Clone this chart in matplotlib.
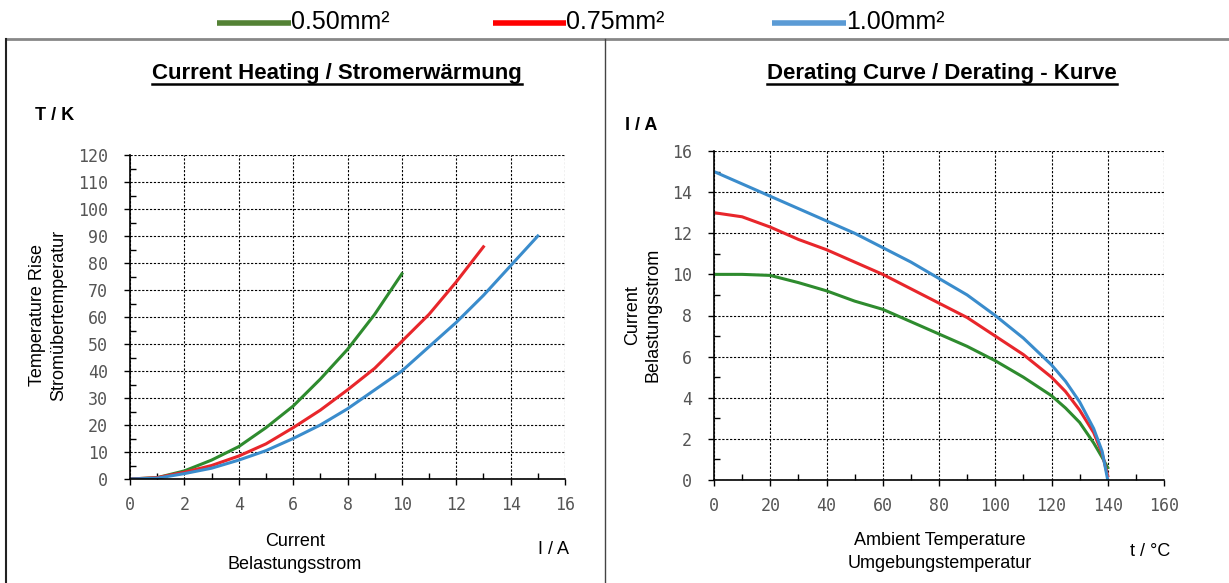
import numpy as np
import matplotlib.pyplot as plt
from matplotlib.lines import Line2D
from matplotlib.ticker import MultipleLocator

# --- data ---
heat_i_050 = [0, 1, 2, 3, 4, 5, 6, 7, 8, 9, 10]
heat_t_050 = [0, 0.5, 3, 7, 12, 19, 27, 37, 48, 61, 76]
heat_i_075 = [0, 1, 2, 3, 4, 5, 6, 7, 8, 9, 10, 11, 12, 13]
heat_t_075 = [0, 0.5, 2.5, 5, 8.5, 13, 19, 25.5, 33, 41, 51, 61, 73, 86]
heat_i_100 = [0, 1, 2, 3, 4, 5, 6, 7, 8, 9, 10, 11, 12, 13, 14, 15]
heat_t_100 = [0, 0.3, 2, 4, 7, 10.5, 15, 20, 26, 33, 40, 49, 58, 68, 79, 90]

der_t = [0, 10, 20, 30, 40, 50, 60, 70, 80, 90, 100, 110, 120, 125, 130, 135, 138, 140]
der_i_050 = [10, 10, 9.95, 9.6, 9.2, 8.7, 8.3, 7.7, 7.1, 6.5, 5.8, 5.0, 4.1, 3.5, 2.8, 1.8, 1.1, 0.6]
der_i_075 = [13, 12.8, 12.3, 11.7, 11.2, 10.6, 10.0, 9.3, 8.6, 7.9, 7.0, 6.1, 5.0, 4.3, 3.4, 2.3, 1.3, 0.2]
der_i_100 = [15, 14.4, 13.8, 13.2, 12.6, 12.0, 11.3, 10.6, 9.8, 9.0, 8.0, 6.9, 5.6, 4.8, 3.8, 2.5, 1.4, 0]

legend_labels = ["0.50mm²", "0.75mm²", "1.00mm²"]
legend_colors = ["#548235", "#ff0000", "#5b9bd5"]
line_colors = ["#2e8b2e", "#e8262b", "#3a8ccc"]

plt.rcParams['font.family'] = ['Liberation Sans', 'DejaVu Sans']

W, H = 1229, 583
fig = plt.figure(figsize=(W / 100, H / 100), dpi=100)


def px(x, y):
    return x / W, 1 - y / H


# frame lines
fig.add_artist(Line2D([6 / W, 1], [1 - 39 / H] * 2, color="#888888", lw=2))
fig.add_artist(Line2D([6 / W] * 2, [0, 1 - 39 / H], color="#222222", lw=1.5))
fig.add_artist(Line2D([605 / W] * 2, [0, 1 - 39 / H], color="#444444", lw=1))

# legend on top
leg_pos = [(217, 291), (493, 566), (772, 846)]
for (x0, x1), lab, col in zip(leg_pos, legend_labels, legend_colors):
    fig.add_artist(Line2D([x0 / W, x1 / W], [1 - 23 / H] * 2, color=col, lw=4,
                          solid_capstyle="butt"))
    fig.text(x1 / W, 1 - 22 / H, lab, fontsize=18, va="center", ha="left")


def style_axes(ax, xmaj, xmin, ymaj, ymin):
    ax.xaxis.set_major_locator(MultipleLocator(xmaj))
    ax.xaxis.set_minor_locator(MultipleLocator(xmin))
    ax.yaxis.set_major_locator(MultipleLocator(ymaj))
    ax.yaxis.set_minor_locator(MultipleLocator(ymin))
    ax.grid(True, which="major", color="black", linestyle=(0, (2, 1.5)), lw=0.8)
    for s in ["top", "right"]:
        ax.spines[s].set_visible(False)
    for s in ["left", "bottom"]:
        ax.spines[s].set_linewidth(1.2)
    ax.tick_params(which="major", direction="out", length=4, width=1,
                   labelsize=12, labelcolor="#555555")
    ax.tick_params(axis="y", which="major", pad=12)
    ax.tick_params(axis="x", which="major", pad=8)
    ax.tick_params(which="minor", direction="in", length=4, width=1)
    for lab in ax.get_xticklabels() + ax.get_yticklabels():
        lab.set_family("DejaVu Sans Mono")


# left chart: current heating
l0, b0 = px(130, 479)
l1, b1 = px(565, 155)
ax1 = fig.add_axes([l0, b0, l1 - l0, b1 - b0])
ax1.plot(heat_i_050, heat_t_050, color=line_colors[0], lw=2.2)
ax1.plot(heat_i_075, heat_t_075, color=line_colors[1], lw=2.2)
ax1.plot(heat_i_100, heat_t_100, color=line_colors[2], lw=2.2)
ax1.set_xlim(0, 16)
ax1.set_ylim(0, 120)
style_axes(ax1, 2, 1, 10, 5)

# right chart: derating
r0, c0 = px(714, 480)
r1, c1 = px(1164, 151)
ax2 = fig.add_axes([r0, c0, r1 - r0, c1 - c0])
ax2.plot(der_t, der_i_050, color=line_colors[0], lw=2.2)
ax2.plot(der_t, der_i_075, color=line_colors[1], lw=2.2)
ax2.plot(der_t, der_i_100, color=line_colors[2], lw=2.2)
ax2.set_xlim(0, 160)
ax2.set_ylim(0, 16)
style_axes(ax2, 20, 10, 2, 1)

# titles with underline
fig.canvas.draw()
renderer = fig.canvas.get_renderer()
for cx, title in [(337, "Current Heating / Stromerwärmung"),
                  (942, "Derating Curve / Derating - Kurve")]:
    t = fig.text(*px(cx, 73), title, fontsize=16, fontweight="bold",
                 ha="center", va="center")
    bb = t.get_window_extent(renderer)
    fig.add_artist(Line2D([bb.x0 / W, bb.x1 / W], [1 - 84 / H] * 2,
                          color="black", lw=1.8))

# unit labels
fig.text(*px(35, 115), "T / K", fontsize=13, fontweight="bold", va="center")
fig.text(*px(625, 125), "I / A", fontsize=13, fontweight="bold", va="center")
fig.text(*px(553, 549), "I / A", fontsize=13, ha="center", va="center")
fig.text(*px(1150, 551), "t / °C", fontsize=13, ha="center", va="center")

# axis descriptions
fig.text(*px(48, 315), "Temperature Rise\nStromübertemperatur", fontsize=13,
         rotation=90, ha="center", va="center", linespacing=1.3)
fig.text(*px(643, 315), "Current\nBelastungsstrom", fontsize=13,
         rotation=90, ha="center", va="center", linespacing=1.3)
fig.text(*px(295, 553), "Current\nBelastungsstrom", fontsize=13,
         ha="center", va="center", linespacing=1.4)
fig.text(*px(940, 552), "Ambient Temperature\nUmgebungstemperatur", fontsize=13,
         ha="center", va="center", linespacing=1.4)

fig.savefig("out.png", dpi=100)
plt.close(fig)
